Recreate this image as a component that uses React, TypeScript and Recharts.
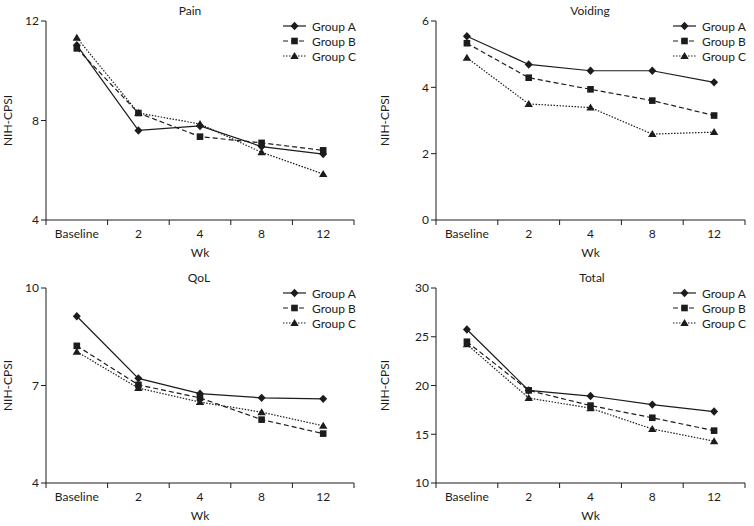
import React from 'react';
import { LineChart, Line, XAxis, YAxis, Customized } from 'recharts';

const weeks = ['Baseline', '2', '4', '8', '12'];
const groups = ['Group A', 'Group B', 'Group C'];

const painA = [11.03, 7.6, 7.78, 6.95, 6.65];
const painB = [10.9, 8.3, 7.35, 7.1, 6.8];
const painC = [11.33, 8.3, 7.86, 6.72, 5.85];

const voidingA = [5.54, 4.69, 4.5, 4.5, 4.15];
const voidingB = [5.33, 4.29, 3.94, 3.6, 3.15];
const voidingC = [4.89, 3.5, 3.39, 2.59, 2.65];

const qolA = [9.13, 7.22, 6.75, 6.62, 6.59];
const qolB = [8.22, 7.02, 6.62, 5.95, 5.52];
const qolC = [8.04, 6.92, 6.49, 6.18, 5.76];

const totalA = [25.74, 19.5, 18.92, 18.04, 17.33];
const totalB = [24.49, 19.5, 17.94, 16.69, 15.37];
const totalC = [24.22, 18.72, 17.67, 15.54, 14.29];

const INK = '#1c1c1c';
const FONT = 'Lato, "Open Sans", sans-serif';
const W = 377;
const H = 263;

type Shape = 'diamond' | 'square' | 'triangle';
const shapes: Shape[] = ['diamond', 'square', 'triangle'];
const dashes = [undefined, '5 3', '1.5 1.5'];

const Marker = ({ cx, cy, shape }: { cx: number; cy: number; shape: Shape }) => {
  if (shape === 'diamond') {
    return <path d={`M${cx},${cy - 4.2}L${cx + 4},${cy}L${cx},${cy + 4.2}L${cx - 4},${cy}Z`} fill={INK} />;
  }
  if (shape === 'square') {
    return <rect x={cx - 3.3} y={cy - 3.3} width={6.6} height={6.6} fill={INK} />;
  }
  return <path d={`M${cx},${cy - 4}L${cx + 4.2},${cy + 3}L${cx - 4.2},${cy + 3}Z`} fill={INK} />;
};

const buildRows = (a: number[], b: number[], c: number[]) =>
  weeks.map((_, i) => ({ x: i, a: a[i], b: b[i], c: c[i] }));

interface PanelProps {
  title: string;
  titleX: number;
  rows: { x: number; a: number; b: number; c: number }[];
  domain: [number, number];
  ticks: number[];
  yWidth: number;
  top: number;
  right: number;
  legendX: number;
  legendY: number;
}

const Panel = ({ title, titleX, rows, domain, ticks, yWidth, top, right, legendX, legendY }: PanelProps) => {
  const keys = ['a', 'b', 'c'];
  const drawExtras = () => (
    <g fontFamily={FONT} fontSize={12} fill={INK}>
      <text x={titleX} y={top - 6} textAnchor="middle">{title}</text>
      {groups.map((g, i) => {
        const y = legendY + i * 15;
        return (
          <g key={g}>
            <line x1={legendX} x2={legendX + 23} y1={y} y2={y} stroke={INK} strokeWidth={1.2} strokeDasharray={dashes[i]} />
            <Marker cx={legendX + 11.5} cy={y} shape={shapes[i]} />
            <text x={legendX + 29} y={y + 4.5}>{g}</text>
          </g>
        );
      })}
    </g>
  );

  return (
    <LineChart width={W} height={H} data={rows} margin={{ top, right, bottom: 0, left: 0 }}>
      {/* axis "0": line plus tick marks on the boundaries between weeks */}
      <XAxis
        xAxisId="0"
        dataKey="x"
        type="number"
        domain={[-0.5, 4.5]}
        ticks={[-0.5, 0.5, 1.5, 2.5, 3.5, 4.5]}
        interval={0}
        tickFormatter={() => ' '}
        height={1}
        stroke={INK}
        tickLine={{ stroke: INK }}
        tickSize={5}
      />
      {/* axis "1": week labels centred under the points */}
      <XAxis
        xAxisId="1"
        dataKey="x"
        type="number"
        domain={[-0.5, 4.5]}
        ticks={[0, 1, 2, 3, 4]}
        interval={0}
        tickFormatter={(v: number) => weeks[v]}
        axisLine={false}
        tickLine={false}
        height={42}
        tick={{ fill: INK, fontSize: 12, fontFamily: FONT }}
        label={{ value: 'Wk', position: 'insideBottom', offset: 6, fill: INK, fontSize: 12, fontFamily: FONT }}
      />
      <YAxis
        domain={domain}
        ticks={ticks}
        width={yWidth}
        stroke={INK}
        tickSize={5}
        tick={{ fill: INK, fontSize: 12, fontFamily: FONT }}
        label={{
          value: 'NIH-CPSI',
          angle: -90,
          position: 'insideLeft',
          offset: 8,
          fill: INK,
          fontSize: 12,
          fontFamily: FONT,
          style: { textAnchor: 'middle' },
        }}
      />
      {keys.map((k, i) => (
        <Line
          key={k}
          xAxisId="1"
          dataKey={k}
          stroke={INK}
          strokeWidth={1.2}
          strokeDasharray={dashes[i]}
          isAnimationActive={false}
          dot={(p: any) => <Marker key={`${k}-${p.index}`} cx={p.cx} cy={p.cy} shape={shapes[i]} />}
          activeDot={false}
        />
      ))}
      <Customized component={drawExtras} />
    </LineChart>
  );
};

export default function App() {
  return (
    <div
      style={{
        position: 'absolute',
        left: 0,
        top: 0,
        width: 754,
        height: 526,
        background: '#fff',
        display: 'grid',
        gridTemplateColumns: `${W}px ${W}px`,
        gridTemplateRows: `${H}px ${H}px`,
        fontFamily: FONT,
      }}
    >
      <Panel title="Pain" titleX={190} rows={buildRows(painA, painB, painC)} domain={[4, 12]} ticks={[4, 8, 12]}
        yWidth={46} top={21} right={23} legendX={283} legendY={26} />
      <Panel title="Voiding" titleX={213} rows={buildRows(voidingA, voidingB, voidingC)} domain={[0, 6]} ticks={[0, 2, 4, 6]}
        yWidth={59} top={21} right={9} legendX={296} legendY={26} />
      <Panel title="QoL" titleX={199} rows={buildRows(qolA, qolB, qolC)} domain={[4, 10]} ticks={[4, 7, 10]}
        yWidth={46} top={25} right={23} legendX={283} legendY={30} />
      <Panel title="Total" titleX={215} rows={buildRows(totalA, totalB, totalC)} domain={[10, 30]} ticks={[10, 15, 20, 25, 30]}
        yWidth={59} top={25} right={9} legendX={296} legendY={30} />
    </div>
  );
}
